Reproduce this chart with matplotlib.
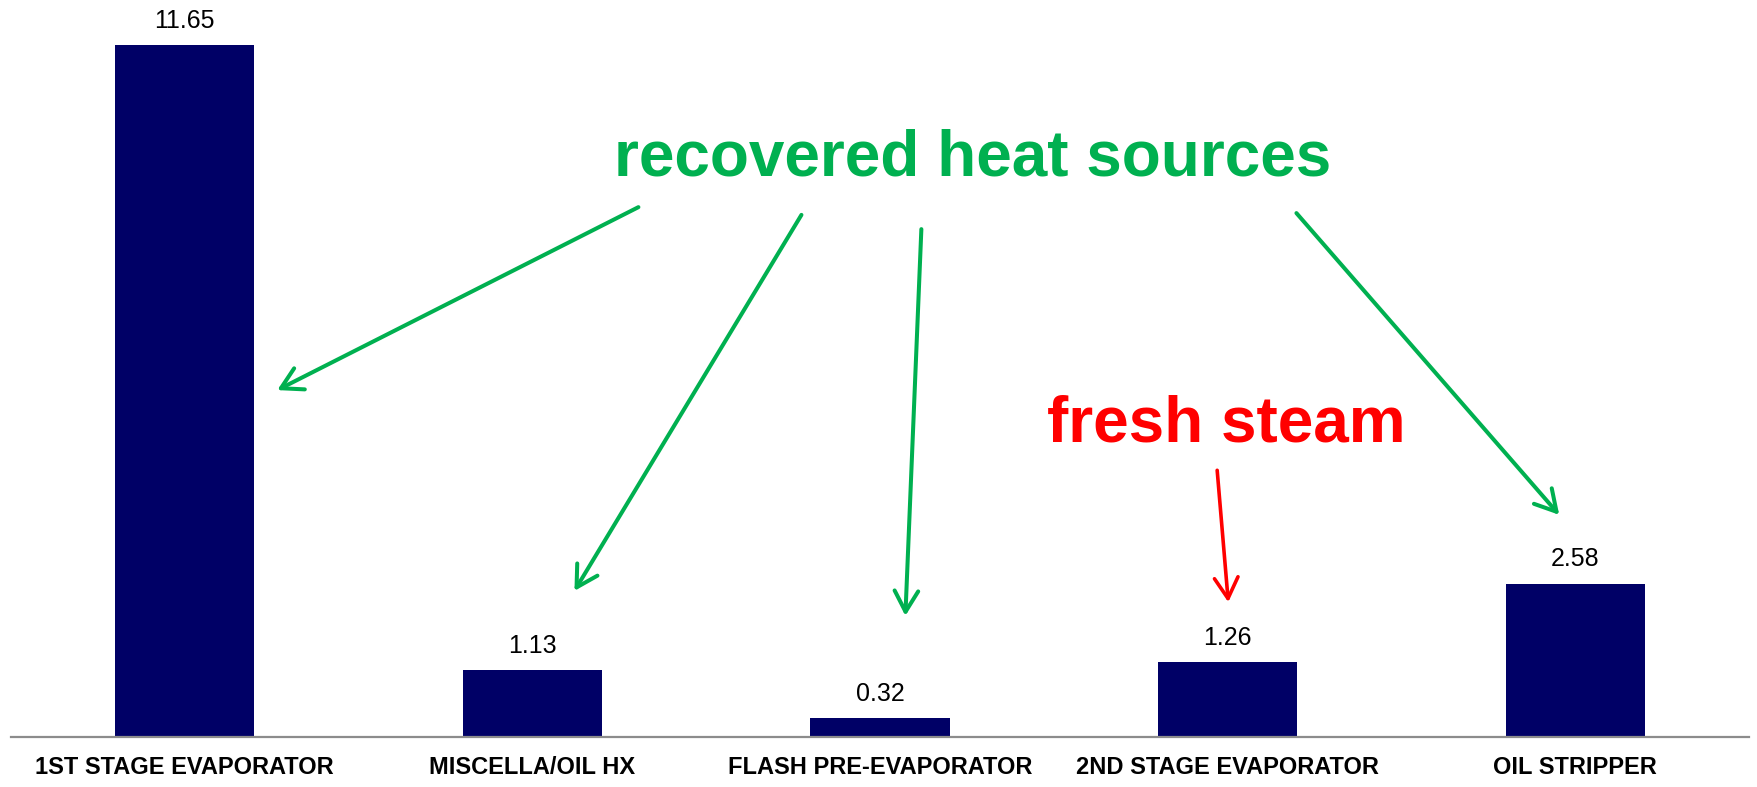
import matplotlib
matplotlib.use("Agg")
import matplotlib.pyplot as plt

categories = ["1ST STAGE EVAPORATOR", "MISCELLA/OIL HX", "FLASH PRE-EVAPORATOR",
              "2ND STAGE EVAPORATOR", "OIL STRIPPER"]
values = [11.65, 1.13, 0.32, 1.26, 2.58]
value_labels = ["11.65", "1.13", "0.32", "1.26", "2.58"]

green_text = "recovered heat sources"
red_text = "fresh steam"

plt.rcParams['font.family'] = ['Liberation Sans', 'DejaVu Sans']

fig = plt.figure(figsize=(17.58, 7.87), dpi=100)
ax = fig.add_axes([11/1758, 50/787, 1738/1758, 737/787])

x = list(range(len(categories)))
bars = ax.bar(x, values, width=0.4, color="#000066")

for xi, v, lab in zip(x, values, value_labels):
    ax.annotate(lab, (xi, v), xytext=(0, 12.5), textcoords="offset points",
                ha="center", va="baseline", fontsize=18, color="#000000")

ax.set_xlim(-0.5, 4.5)
ax.set_ylim(0, 737/59.4)
ax.set_xticks(x)
ax.set_xticklabels(categories, fontsize=17, fontweight="bold")
ax.tick_params(axis="x", length=0, pad=14)
ax.set_yticks([])
for s in ["top", "left", "right"]:
    ax.spines[s].set_visible(False)
ax.spines["bottom"].set_color("#8c8c8c")
ax.spines["bottom"].set_linewidth(1.6)

# annotations
green = "#00B050"
red = "#FF0000"
ax.text(2.266, 9.46, green_text, ha="center", va="baseline", fontsize=46,
        fontweight="bold", color=green)
ax.text(2.996, 4.97, red_text, ha="center", va="baseline", fontsize=46,
        fontweight="bold", color=red)

green_arrows = [((1.305, 8.92), (0.266, 5.84)),
                ((1.774, 8.79), (1.121, 2.46)),
                ((2.119, 8.55), (2.073, 2.04)),
                ((3.198, 8.82), (3.954, 3.74))]
astyle = "->,head_length=1.5,head_width=0.85"
for start, end in green_arrows:
    ax.annotate("", xy=end, xytext=start,
                arrowprops=dict(arrowstyle=astyle, color=green, lw=2.9,
                                shrinkA=0, shrinkB=0, mutation_scale=10,
                                capstyle="round", joinstyle="round"))
ax.annotate("", xy=(3.002, 2.27), xytext=(2.970, 4.49),
            arrowprops=dict(arrowstyle=astyle, color=red, lw=2.6,
                            shrinkA=0, shrinkB=0, mutation_scale=10,
                            capstyle="round", joinstyle="round"))

fig.savefig("out.png", dpi=100)
